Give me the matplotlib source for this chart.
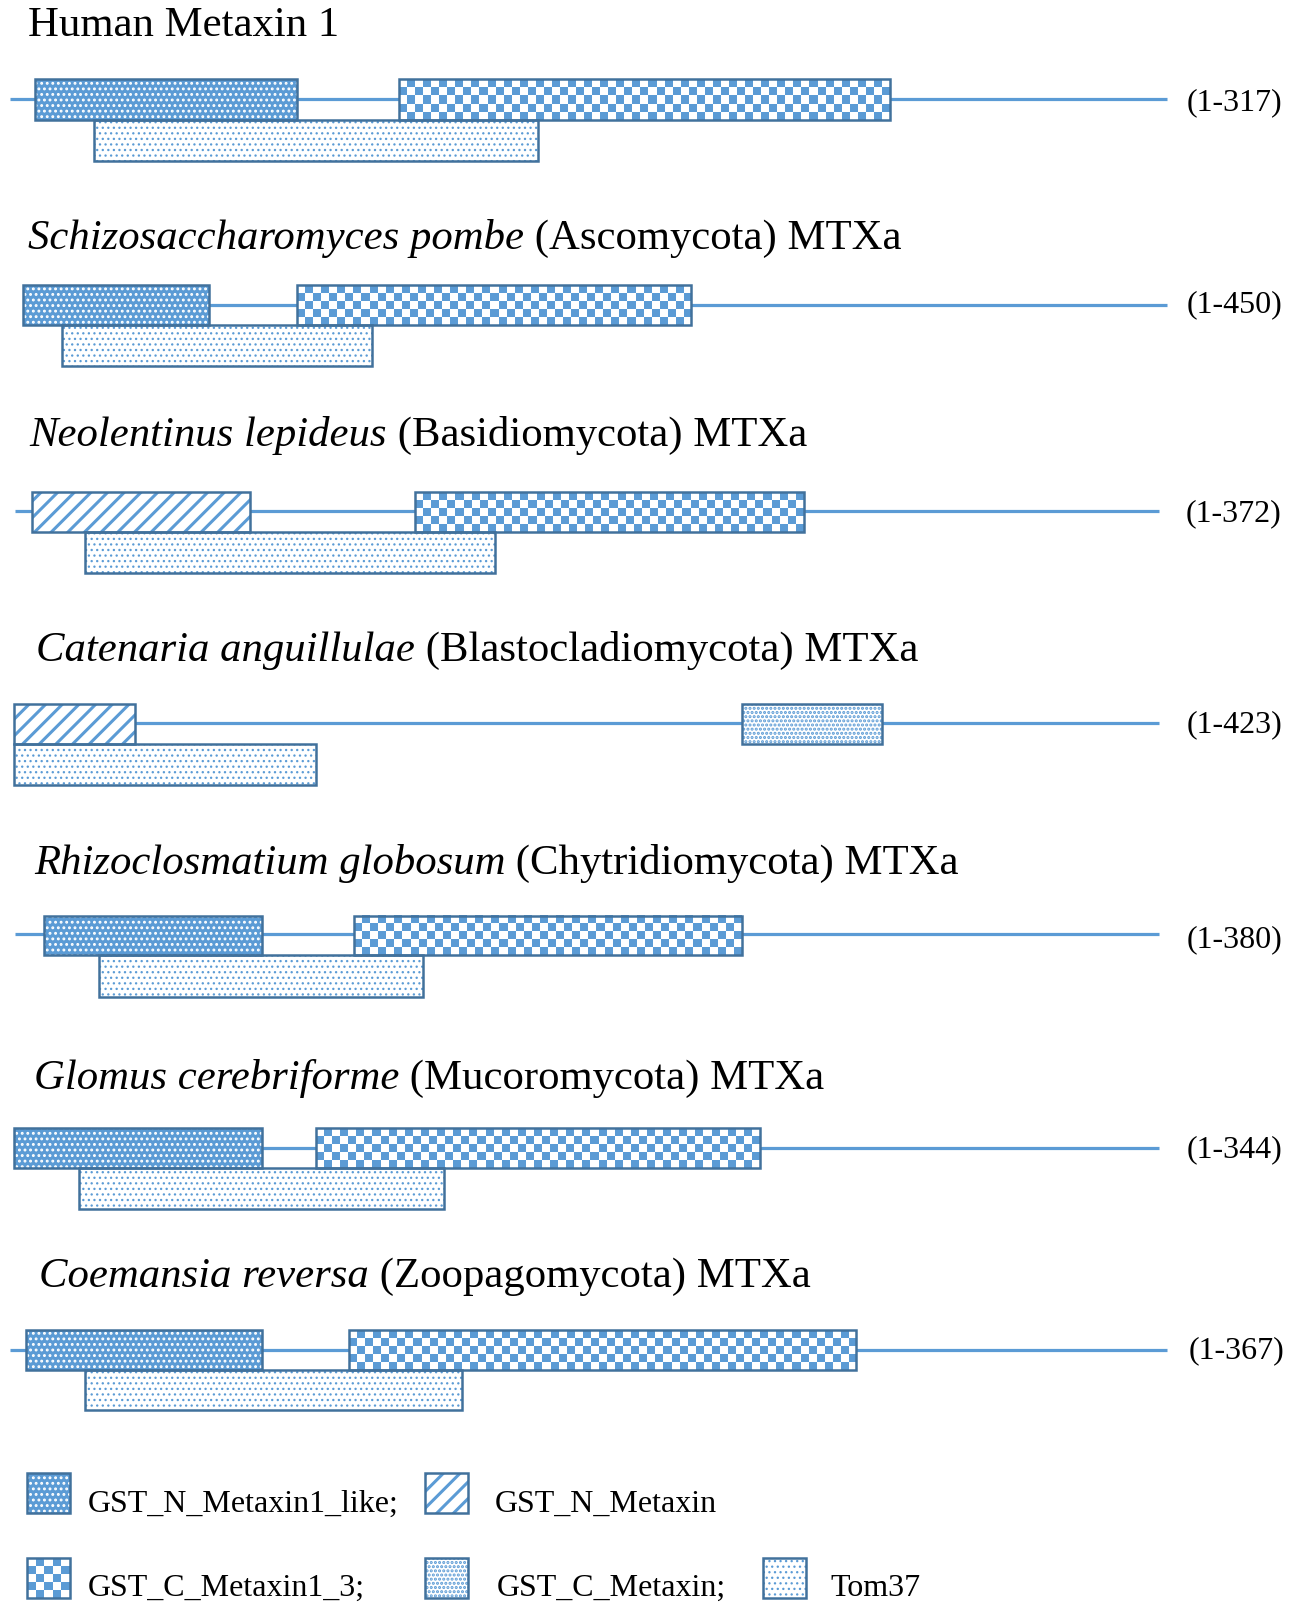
import numpy as np
import matplotlib
matplotlib.use("Agg")
import matplotlib.pyplot as plt
from matplotlib.patches import Rectangle
from matplotlib.colors import ListedColormap

plt.rcParams['font.family'] = ['Liberation Serif', 'DejaVu Serif']

# -------- data (positions read in the 1271x1568 view) --------
italic_names = ["", "Schizosaccharomyces pombe", "Neolentinus lepideus",
                "Catenaria anguillulae", "Rhizoclosmatium globosum",
                "Glomus cerebriforme", "Coemansia reversa"]
rest_names = ["Human Metaxin 1", " (Ascomycota) MTXa", " (Basidiomycota) MTXa",
              " (Blastocladiomycota) MTXa", " (Chytridiomycota) MTXa",
              " (Mucoromycota) MTXa", " (Zoopagomycota) MTXa"]
title_x = [27, 27, 29, 35, 33, 33, 38]
title_y = [22, 230, 423, 633, 841, 1051, 1245]

line_y  = [97, 298, 500, 707, 913, 1122, 1320]
line_x0 = [10, 22, 15, 14, 15, 14, 10]
line_x1 = [1141, 1141, 1133, 1133, 1133, 1133, 1141]

box_top = [77, 279, 481, 688, 895, 1103, 1300]
box_mid = [117, 318, 520, 727, 934, 1142, 1339]
box_bot = [157, 358, 560, 767, 975, 1182, 1378]

n_kind = ['N1like', 'N1like', 'Nmet', 'Nmet', 'N1like', 'N1like', 'N1like']
n_x0 = [34, 22, 31, 14, 43, 14, 25]
n_x1 = [290, 204, 244, 132, 256, 256, 256]

c_kind = ['C1_3', 'C1_3', 'C1_3', 'Cmet', 'C1_3', 'C1_3', 'C1_3']
c_x0 = [390, 290, 406, 725, 346, 309, 341]
c_x1 = [870, 676, 786, 862, 725, 743, 837]

tom_x0 = [92, 61, 83, 14, 97, 77, 83]
tom_x1 = [526, 364, 484, 309, 414, 434, 452]

len_labels = ['(1-317)', '(1-450)', '(1-372)', '(1-423)', '(1-380)', '(1-344)', '(1-367)']
len_x = [1160, 1160, 1159, 1160, 1160, 1160, 1162]
len_y = [97, 295, 499, 705, 916, 1121, 1317]

leg_kind = ['N1like', 'Nmet', 'C1_3', 'Cmet', 'Tom37']
leg_text = ['GST_N_Metaxin1_like;', 'GST_N_Metaxin', 'GST_C_Metaxin1_3;',
            'GST_C_Metaxin;', 'Tom37']
leg_box_x = [26, 416, 26, 416, 746]
leg_box_y = [1440, 1440, 1523, 1523, 1523]
leg_text_x = [86, 484, 86, 486, 812]
leg_text_y = [1468, 1468, 1550, 1550, 1550]

# -------- style --------
BLUE = '#5B9BD5'
EDGE = '#41719C'
STYLE = {
    'N1like': dict(face=BLUE, hatch='...', hcol='white', hlw=1.3),
    'Nmet':   dict(face='white', hatch='//', hcol=BLUE, hlw=2.2),
    'Cmet':   dict(face='white', hatch='....', hcol=BLUE, hlw=1.5),
    'Tom37':  dict(face='white', hatch='...', hcol=BLUE, hlw=0.9),
}
CELL = 7.9
TITLE_FS = 30.8
SMALL_FS = 23
TEXT_DY = 3   # font metrics put the text a bit high
checker_cmap = ListedColormap(['white', BLUE])

fig = plt.figure(figsize=(13, 16.04), dpi=100)
ax = fig.add_axes([0, 0, 1, 1])
ax.set_xlim(0, 1271)
ax.set_ylim(1568, 0)
ax.axis('off')


def domain(kind, x0, x1, y0, y1, z=3):
    w, h = x1 - x0, y1 - y0
    if kind == 'C1_3':
        nx = max(1, int(round(w / CELL)))
        ny = max(1, int(round(h / CELL)))
        grid = (np.add.outer(np.arange(ny), np.arange(nx)) % 2)
        ax.imshow(grid, cmap=checker_cmap, extent=(x0, x1, y1, y0),
                  aspect='auto', interpolation='nearest', zorder=z)
    else:
        st = STYLE[kind]
        with plt.rc_context({'hatch.linewidth': st['hlw']}):
            p = Rectangle((x0, y0), w, h, facecolor=st['face'],
                          edgecolor=st['hcol'], hatch=st['hatch'],
                          linewidth=0, zorder=z)
        if hasattr(p, 'set_hatch_linewidth'):
            p.set_hatch_linewidth(st['hlw'])
        ax.add_patch(p)
    ax.add_patch(Rectangle((x0, y0), w, h, facecolor='none',
                           edgecolor=EDGE, linewidth=1.8, zorder=z + 0.5))


for i in range(len(line_y)):
    ax.plot([line_x0[i], line_x1[i]], [line_y[i], line_y[i]],
            color=BLUE, lw=2.3, zorder=1, solid_capstyle='butt')
    domain('Tom37', tom_x0[i], tom_x1[i], box_mid[i], box_bot[i])
    domain(n_kind[i], n_x0[i], n_x1[i], box_top[i], box_mid[i])
    domain(c_kind[i], c_x0[i], c_x1[i], box_top[i], box_mid[i])

    ax.text(len_x[i], len_y[i] + TEXT_DY, len_labels[i], fontsize=SMALL_FS,
            ha='left', va='center')

    ty = title_y[i] + TEXT_DY
    if italic_names[i]:
        t = ax.text(title_x[i], ty, italic_names[i], fontsize=TITLE_FS,
                    style='italic', ha='left', va='center')
        ax.annotate(rest_names[i], xy=(1, 0), xycoords=t, fontsize=TITLE_FS,
                    ha='left', va='bottom')
    else:
        ax.text(title_x[i], ty, rest_names[i], fontsize=TITLE_FS,
                ha='left', va='center')

for k, bx, by, tx, ty, lab in zip(leg_kind, leg_box_x, leg_box_y,
                                  leg_text_x, leg_text_y, leg_text):
    domain(k, bx, bx + 42, by, by + 39)
    ax.text(tx, ty + TEXT_DY, lab, fontsize=SMALL_FS, ha='left', va='center')

fig.savefig('out.png', dpi=100)
